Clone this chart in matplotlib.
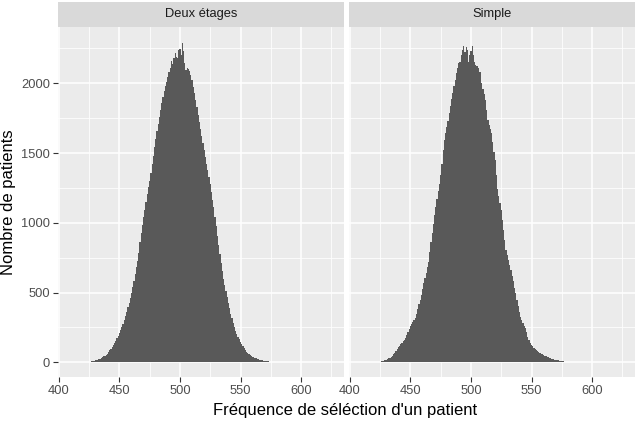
import numpy as np
import matplotlib
matplotlib.use('Agg')
import matplotlib.pyplot as plt
from matplotlib.ticker import FixedLocator

plt.rcParams['font.family'] = ['Liberation Sans', 'DejaVu Sans']

# counts per selection frequency (bin width 1)
deux_start = 418
deux_counts = [
    1, 0, 2, 1, 3, 3, 4, 5, 6, 7, 9, 11, 14, 16, 19, 23, 27, 31, 36, 42,      # 418-437
    48, 56, 63, 74, 86, 96, 110, 124, 138, 155, 175, 190, 210, 232, 255,     # 438-452
    276, 300, 330, 362, 395, 428, 462, 498, 540, 585, 630, 680, 725, 785,    # 453-466
    860, 930, 985, 1040, 1090, 1150, 1205, 1260, 1300, 1360, 1420, 1480,     # 467-478
    1540, 1600, 1660, 1710, 1760, 1810, 1860, 1900, 1945, 1980, 2010, 2045,  # 479-490
    2080, 2110, 2160, 2140, 2180, 2215, 2190, 2180, 2235, 2244, 2200, 2291,  # 491-502
    2230, 2143, 2095, 2110, 2100, 2090, 2060, 2020, 1975, 1930, 1880, 1830,  # 503-514
    1770, 1720, 1670, 1620, 1570, 1520, 1470, 1420, 1375, 1330, 1275, 1220,  # 515-526
    1165, 1110, 1040, 975, 905, 840, 775, 715, 655, 600, 555, 510, 465, 425, # 527-540
    390, 350, 315, 285, 255, 228, 205, 185, 165, 145, 128, 115, 100, 88,     # 541-554
    76, 66, 58, 52, 45, 40, 35, 31, 28, 24, 21, 18, 16, 14, 12, 10, 9, 8,    # 555-572
    7, 6, 5, 4, 4, 3, 3, 2, 2, 1, 2, 1, 0, 1,                                # 573-586
]

simple_start = 420
simple_counts = [
    1, 1, 2, 3, 4, 6, 7, 9, 12, 15, 19, 23, 28, 34, 41, 49, 58, 68, 80, 95,  # 420-439
    110, 120, 132, 140, 150, 160, 178, 198, 220, 240, 258, 272, 290, 305,    # 440-453
    320, 350, 380, 415, 448, 485, 525, 566, 605, 640, 680, 720, 790, 860,    # 454-467
    925, 990, 1055, 1115, 1170, 1230, 1280, 1340, 1420, 1520, 1590, 1640,    # 468-479
    1690, 1730, 1790, 1840, 1885, 1930, 1980, 2025, 2070, 2110, 2145, 2150,  # 480-491
    2200, 2235, 2267, 2225, 2260, 2240, 2155, 2200, 2230, 2267, 2200, 2155,  # 492-503
    2130, 2120, 2110, 2080, 2080, 2000, 1960, 1920, 1880, 1810, 1740, 1700,  # 504-515
    1670, 1640, 1580, 1510, 1450, 1340, 1240, 1190, 1140, 1090, 1020, 950,   # 516-527
    880, 805, 770, 730, 695, 660, 620, 580, 535, 495, 450, 405, 360, 327,    # 528-541
    305, 285, 262, 244, 215, 185, 158, 136, 125, 115, 105, 96, 88, 80, 74,   # 542-556
    68, 62, 57, 53, 48, 44, 40, 36, 32, 29, 26, 23, 20, 18, 16, 14, 13, 12,  # 557-574
    9, 7, 6, 4, 3, 2, 1,                                                      # 575-581
]

facets = ['Deux étages', 'Simple']
x_major = [400, 450, 500, 550, 600]
x_minor = [425, 475, 525, 575, 625]
y_major = [0, 500, 1000, 1500, 2000]
y_minor = [250, 750, 1250, 1750, 2250]

W, H = 635, 421
fig = plt.figure(figsize=(W / 100, H / 100), dpi=100)

panel_left = [57.5, 348.5]
panel_w = 286.5
panel_top, panel_bot = 27, 377
strip_top = 2

data = [(deux_start, deux_counts), (simple_start, simple_counts)]

for i, (start, counts) in enumerate(data):
    left = panel_left[i]
    ax = fig.add_axes([left / W, (H - panel_bot) / H, panel_w / W, (panel_bot - panel_top) / H])
    ax.set_facecolor('#EBEBEB')
    edges = np.arange(start, start + len(counts) + 1) - 0.5
    ax.stairs(counts, edges, fill=True, color='#595959', linewidth=0, zorder=3)
    ax.set_xlim(398.8, 635.5)
    ax.set_ylim(-105, 2403)
    ax.xaxis.set_major_locator(FixedLocator(x_major))
    ax.xaxis.set_minor_locator(FixedLocator(x_minor))
    ax.yaxis.set_major_locator(FixedLocator(y_major))
    ax.yaxis.set_minor_locator(FixedLocator(y_minor))
    ax.grid(which='major', color='white', linewidth=1.1, zorder=1)
    ax.grid(which='minor', color='white', linewidth=0.55, zorder=1)
    ax.set_axisbelow(True)
    for s in ax.spines.values():
        s.set_visible(False)
    ax.tick_params(which='major', length=3.5, width=0.8, color='#333333',
                   labelsize=9.3, labelcolor='#4D4D4D', pad=2)
    ax.tick_params(which='minor', length=0)
    if i == 1:
        ax.tick_params(axis='y', which='both', left=False, labelleft=False)

    sax = fig.add_axes([left / W, (H - panel_top + 0.5) / H, panel_w / W, (panel_top - 0.5 - strip_top) / H])
    sax.set_facecolor('#D9D9D9')
    sax.set_xticks([])
    sax.set_yticks([])
    for s in sax.spines.values():
        s.set_visible(False)
    sax.text(0.5, 0.5, facets[i], ha='center', va='center', fontsize=9.3,
             color='#1A1A1A', transform=sax.transAxes)

fig.text(345 / W, 1 - 410 / H, "Fréquence de séléction d'un patient",
         ha='center', va='center', fontsize=12, color='black')
fig.text(9 / W, 1 - 202 / H, 'Nombre de patients', ha='center', va='center',
         rotation=90, fontsize=12, color='black')

fig.savefig('out.png', dpi=100, facecolor='white')
